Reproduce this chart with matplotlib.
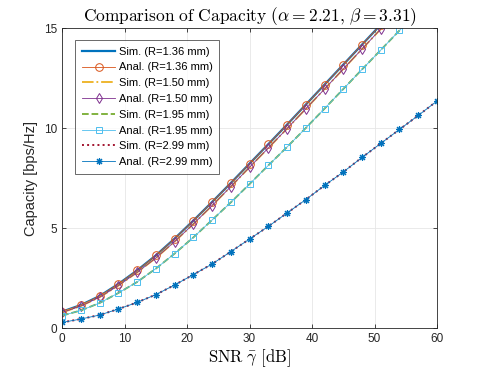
import matplotlib
matplotlib.use("Agg")
import matplotlib.pyplot as plt

plt.rcParams['font.family'] = ['Liberation Sans', 'DejaVu Sans']
plt.rcParams['mathtext.fontset'] = 'cm'

snr_db = [0, 3, 6, 9, 12, 15, 18, 21, 24, 27, 30, 33, 36, 39, 42, 45, 48, 51, 54, 57, 60]

anal_136 = [0.82, 1.15, 1.60, 2.20, 2.88, 3.63, 4.47, 5.37, 6.30, 7.25, 8.22, 9.19, 10.17, 11.17, 12.17, 13.17, 14.17, 15.17, 16.17, 17.17, 18.17]
sim_136  = [0.82, 1.15, 1.60, 2.20, 2.88, 3.63, 4.47, 5.37, 6.30, 7.25, 8.22, 9.19, 10.17, 11.17, 12.17, 13.17, 14.17, 15.17, 16.17, 17.17, 18.17]
anal_150 = [0.78, 1.10, 1.54, 2.12, 2.78, 3.50, 4.32, 5.20, 6.12, 7.07, 8.04, 9.00, 9.97, 10.96, 11.95, 12.95, 13.95, 14.95, 15.95, 16.95, 17.95]
sim_150  = [0.78, 1.10, 1.54, 2.12, 2.78, 3.50, 4.32, 5.20, 6.12, 7.07, 8.04, 9.00, 9.97, 10.96, 11.95, 12.95, 13.95, 14.95, 15.95, 16.95, 17.95]
anal_195 = [0.62, 0.88, 1.25, 1.75, 2.30, 2.97, 3.72, 4.53, 5.40, 6.28, 7.20, 8.13, 9.05, 10.00, 10.97, 11.95, 12.93, 13.90, 14.88, 15.87, 16.86]
sim_195  = [0.62, 0.88, 1.25, 1.75, 2.30, 2.97, 3.72, 4.53, 5.40, 6.28, 7.20, 8.13, 9.05, 10.00, 10.97, 11.95, 12.93, 13.90, 14.88, 15.87, 16.86]
anal_299 = [0.28, 0.45, 0.65, 0.95, 1.28, 1.67, 2.15, 2.67, 3.20, 3.82, 4.45, 5.08, 5.75, 6.42, 7.13, 7.80, 8.53, 9.23, 9.93, 10.63, 11.35]
sim_299  = [0.28, 0.45, 0.65, 0.95, 1.28, 1.67, 2.15, 2.67, 3.20, 3.82, 4.45, 5.08, 5.75, 6.42, 7.13, 7.80, 8.53, 9.23, 9.93, 10.63, 11.35]

labels = ['Sim. (R=1.36 mm)', 'Anal. (R=1.36 mm)',
          'Sim. (R=1.50 mm)', 'Anal. (R=1.50 mm)',
          'Sim. (R=1.95 mm)', 'Anal. (R=1.95 mm)',
          'Sim. (R=2.99 mm)', 'Anal. (R=2.99 mm)']

fig = plt.figure(figsize=(4.85, 3.69), dpi=100)
ax = fig.add_axes([0.128, 0.111, 0.773, 0.813])

ax.plot(snr_db, sim_136, '-', color='#0072BD', lw=1.6, label=labels[0])
ax.plot(snr_db, anal_136, '-', color='#D95319', lw=0.6, marker='o', ms=5.5,
        mfc='none', mew=0.7, label=labels[1])
ax.plot(snr_db, sim_150, '-.', color='#EDB120', lw=1.3, label=labels[2])
ax.plot(snr_db, anal_150, '-', color='#7E2F8E', lw=0.6, marker='d', ms=5,
        mfc='none', mew=0.7, label=labels[3])
ax.plot(snr_db, sim_195, '--', color='#77AC30', lw=1.3, label=labels[4])
ax.plot(snr_db, anal_195, '-', color='#4DBEEE', lw=0.6, marker='s', ms=4.5,
        mfc='none', mew=0.7, label=labels[5])
ax.plot(snr_db, sim_299, ':', color='#A2142F', lw=1.4, label=labels[6])
ax.plot(snr_db, anal_299, '-', color='#0072BD', lw=0.6, marker=(8, 2, 0), ms=5,
        mew=0.8, label=labels[7])

ax.set_xlim(0, 60)
ax.set_ylim(0, 15)
ax.set_xticks([0, 10, 20, 30, 40, 50, 60])
ax.set_yticks([0, 5, 10, 15])
ax.grid(True, color='#e6e6e6', lw=0.6)
ax.set_axisbelow(True)
ax.tick_params(direction='in', top=True, right=True, labelsize=8.5,
               colors='#262626', length=3, width=0.6)
for s in ax.spines.values():
    s.set_color('#262626')
    s.set_linewidth(0.6)

ax.set_title(r'$\mathrm{Comparison\ of\ Capacity\ }(\alpha = 2.21,\, \beta = 3.31)$',
             fontsize=12.5, pad=5)
ax.set_xlabel(r'$\mathrm{SNR}\ \bar{\gamma}\ \mathrm{[dB]}$', fontsize=12, labelpad=2)
ax.set_ylabel('Capacity [bps/Hz]', fontsize=10.5, color='#262626', labelpad=4)

leg = ax.legend(loc='upper left', bbox_to_anchor=(0.035, 0.96), borderaxespad=0,
                fontsize=8, frameon=True, fancybox=False, handlelength=3.0,
                labelspacing=0.52, borderpad=0.6, handletextpad=0.3)
leg.get_frame().set_edgecolor('#262626')
leg.get_frame().set_linewidth(0.6)

fig.savefig('out.png', dpi=100)
